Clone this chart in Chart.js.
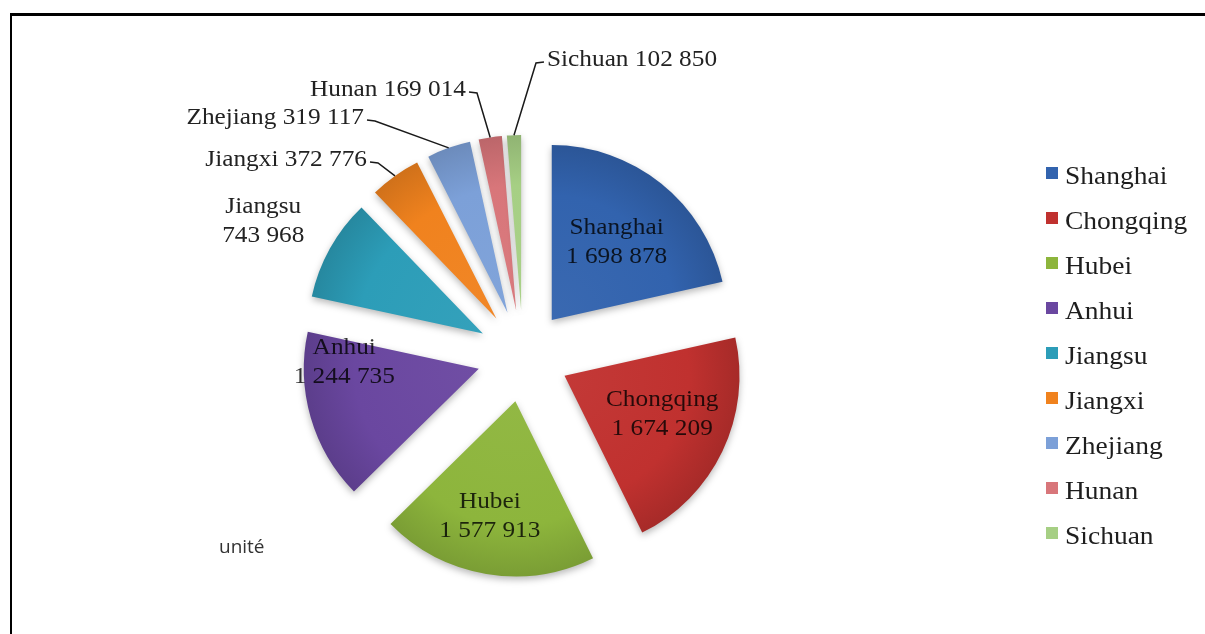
<!DOCTYPE html>
<html>
<head>
<meta charset="utf-8">
<script src="https://cdn.jsdelivr.net/npm/chart.js@4"></script>
<style>
  body { margin: 0; background: #fff; overflow: hidden; }
  #frame { position: absolute; left: 10px; top: 13px; width: 1300px; height: 700px;
           border-top: 3px solid #000; border-left: 2px solid #000; }
  #wrap { position: absolute; left: 0; top: 0; width: 1205px; height: 634px; }
</style>
</head>
<body>
<div id="frame"></div>
<div id="wrap"><canvas id="pieChart" width="1205" height="634"></canvas></div>
<script>
// data
const regions = ['Shanghai', 'Chongqing', 'Hubei', 'Anhui', 'Jiangsu', 'Jiangxi', 'Zhejiang', 'Hunan', 'Sichuan'];
const units = [1698878, 1674209, 1577913, 1244735, 743968, 372776, 319117, 169014, 102850];
const unitLabel = 'unité';

// styles
const sliceColors = ['#3263AE', '#C0312F', '#8DB53C', '#6A47A0', '#2C9DB8', '#F0821E', '#7CA0D8', '#D8767A', '#A6CF84'];
const explode = 46;
const serif = '"Liberation Serif", "Times New Roman", serif';

// where each data label goes: polar from slice apex (f = fraction of radius, turn = degrees)
// or a fixed text anchor with a leader line
const labelSpots = [
    { f: 0.58, turn: 1, inside: true },
    { f: 0.60, turn: -4, inside: true },
    { f: 0.67, turn: 3, inside: true },
    { f: 0.77, turn: 19, inside: true },
    { f: 1.41, turn: -2 },
    { x: 367, y: 160, align: 'right' },
    { x: 364, y: 118, align: 'right' },
    { x: 466, y: 90, align: 'right' },
    { x: 547, y: 60, align: 'left' }
];

function fmt(n) {
    return n.toString().replace(/\B(?=(\d{3})+(?!\d))/g, ' ');
}

function shade(hex, amt) {
    const n = parseInt(hex.slice(1), 16);
    let r = n >> 16, g = (n >> 8) & 255, b = n & 255;
    if (amt >= 0) {
        r += (255 - r) * amt; g += (255 - g) * amt; b += (255 - b) * amt;
    } else {
        r *= 1 + amt; g *= 1 + amt; b *= 1 + amt;
    }
    return 'rgb(' + Math.round(r) + ',' + Math.round(g) + ',' + Math.round(b) + ')';
}

function sliceFill(c) {
    const base = sliceColors[c.dataIndex];
    const area = c.chart.chartArea;
    if (!area) return base;
    const cx = (area.left + area.right) / 2, cy = (area.top + area.bottom) / 2;
    const g = c.chart.ctx.createRadialGradient(cx, cy, 0, cx, cy, 178);
    g.addColorStop(0, shade(base, 0.04));
    g.addColorStop(0.7, base);
    g.addColorStop(1, shade(base, -0.14));
    return g;
}

function stretchText(ctx, str, x, y, align, font, color) {
    ctx.save();
    ctx.translate(x, y);
    ctx.scale(1.1, 1);
    ctx.font = font;
    ctx.fillStyle = color;
    ctx.textAlign = align;
    ctx.textBaseline = 'middle';
    ctx.fillText(str, 0, 0);
    ctx.restore();
}

const explodedPie = {
    id: 'explodedPie',
    beforeDatasetsDraw(chart) {
        const ctx = chart.ctx;
        const arcs = chart.getDatasetMeta(0).data;
        const lblFont = '23px ' + serif;

        arcs.forEach((arc) => {
            const mid = (arc.startAngle + arc.endAngle) / 2;
            ctx.save();
            ctx.translate(Math.cos(mid) * explode, Math.sin(mid) * explode);
            ctx.shadowColor = 'rgba(0,0,0,0.28)';
            ctx.shadowBlur = 7;
            ctx.shadowOffsetY = 3;
            arc.draw(ctx);
            ctx.restore();
        });

        arcs.forEach((arc, i) => {
            const mid = (arc.startAngle + arc.endAngle) / 2;
            const ax = arc.x + Math.cos(mid) * explode;
            const ay = arc.y + Math.sin(mid) * explode;
            const spot = labelSpots[i];
            if (spot.f !== undefined) {
                const a = mid + spot.turn * Math.PI / 180;
                const lx = ax + Math.cos(a) * arc.outerRadius * spot.f;
                const ly = ay + Math.sin(a) * arc.outerRadius * spot.f;
                const color = spot.inside ? 'rgba(0,0,0,0.8)' : '#222';
                stretchText(ctx, regions[i], lx, ly - 14, 'center', lblFont, color);
                stretchText(ctx, fmt(units[i]), lx, ly + 15, 'center', lblFont, color);
            } else {
                const ox = ax + Math.cos(mid) * arc.outerRadius;
                const oy = ay + Math.sin(mid) * arc.outerRadius;
                stretchText(ctx, regions[i] + ' ' + fmt(units[i]), spot.x, spot.y, spot.align, lblFont, '#222');
                const dir = spot.align === 'right' ? 1 : -1;
                const sx = spot.x + dir * 3;
                const kx = spot.x + dir * 11;
                ctx.save();
                ctx.strokeStyle = '#1a1a1a';
                ctx.lineWidth = 1.5;
                ctx.beginPath();
                ctx.moveTo(sx, spot.y + 2);
                ctx.lineTo(kx, spot.y + 3);
                ctx.lineTo(ox, oy);
                ctx.stroke();
                ctx.restore();
            }
        });
        return false;
    },
    afterDraw(chart) {
        const ctx = chart.ctx;
        // legend
        regions.forEach((name, i) => {
            const y = 173 + i * 45;
            ctx.fillStyle = sliceColors[i];
            ctx.fillRect(1046, y - 6, 12, 12);
            stretchText(ctx, name, 1065, y + 4, 'left', '25px ' + serif, '#1e1e1e');
        });
        ctx.save();
        ctx.font = '19px "Open Sans", "Noto Sans", sans-serif';
        ctx.fillStyle = '#333';
        ctx.textBaseline = 'middle';
        ctx.fillText(unitLabel, 219, 548);
        ctx.restore();
    }
};

const ctxPie = document.getElementById('pieChart').getContext('2d');
const pieChart = new Chart(ctxPie, {
    type: 'pie',
    data: {
        labels: regions,
        datasets: [{
            data: units,
            backgroundColor: sliceFill,
            borderWidth: 0
        }]
    },
    options: {
        responsive: false,
        animation: false,
        radius: 175,
        layout: {
            padding: { left: 323, right: 482, top: 156, bottom: 78 }
        },
        plugins: {
            legend: { display: false },
            tooltip: { enabled: false }
        }
    },
    plugins: [explodedPie]
});
</script>
</body>
</html>
